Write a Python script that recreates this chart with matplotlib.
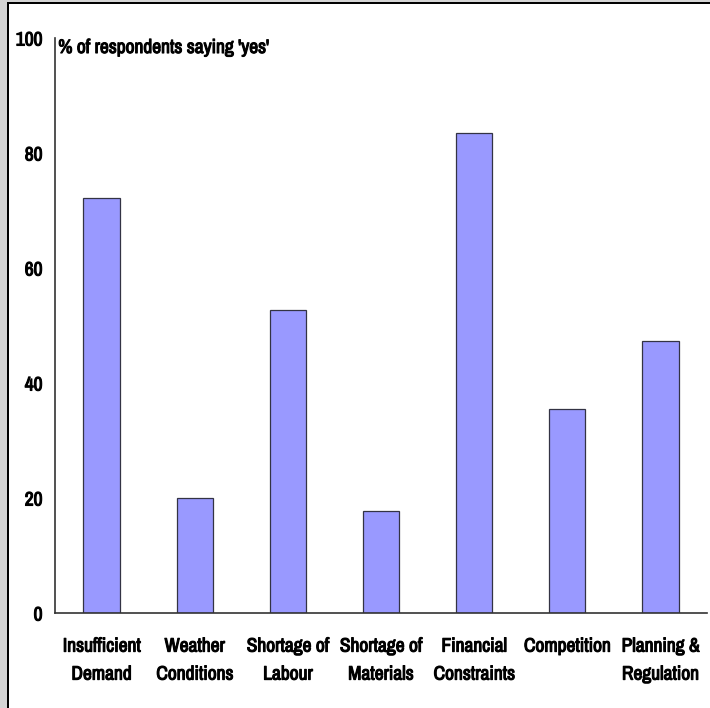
import matplotlib.pyplot as plt
import matplotlib.patheffects as pe
from matplotlib.patches import Rectangle

categories = ["Insufficient\nDemand", "Weather\nConditions", "Shortage of\nLabour",
              "Shortage of\nMaterials", "Financial\nConstraints", "Competition",
              "Planning &\nRegulation"]
yes_pct = [72.2, 20.0, 52.7, 17.7, 83.5, 35.5, 47.3]
yticks = [0, 20, 40, 60, 80, 100]

plt.rcParams['font.family'] = ['Archivo Narrow', 'Roboto Condensed', 'DejaVu Sans']
# thicken the narrow font a little
heavy = [pe.withStroke(linewidth=0.8, foreground='black')]

fig = plt.figure(figsize=(7.1, 7.08), dpi=100)
W, H = 710, 708

# outer frame: grey margin with black line on left and top
fig.patches.append(Rectangle((0, 0), 7 / W, 1, transform=fig.transFigure,
                             facecolor='#d4d4d4', edgecolor='none'))
fig.patches.append(Rectangle((0, 1 - 2 / H), 1, 2 / H, transform=fig.transFigure,
                             facecolor='#d4d4d4', edgecolor='none'))
fig.patches.append(Rectangle((7 / W, 0), 2 / W, 1 - 2 / H, transform=fig.transFigure,
                             facecolor='black', edgecolor='none'))
fig.patches.append(Rectangle((7 / W, 1 - 4 / H), 1, 2 / H, transform=fig.transFigure,
                             facecolor='black', edgecolor='none'))

ax = fig.add_axes([55 / W, 95 / H, 652 / W, 575 / H])
x = range(len(categories))
ax.bar(x, yes_pct, width=0.39, color='#9999ff', edgecolor='#333344', linewidth=0.9)

ax.set_xlim(-0.5, len(categories) - 0.5)
ax.set_ylim(0, 100)
ax.set_yticks(yticks)
ax.set_yticklabels([str(t) for t in yticks], fontsize=14)
ax.set_xticks(list(x))
ax.set_xticklabels(categories, fontsize=14, linespacing=1.6)
ax.tick_params(axis='both', length=0)
ax.tick_params(axis='y', pad=9)
ax.tick_params(axis='x', pad=17)
for lbl in ax.get_xticklabels() + ax.get_yticklabels():
    lbl.set_path_effects(heavy)

for s in ['top', 'right']:
    ax.spines[s].set_visible(False)
for s in ['left', 'bottom']:
    ax.spines[s].set_color('#333333')
    ax.spines[s].set_linewidth(1.2)

ax.text(0.005, 1.0, "% of respondents saying 'yes'", transform=ax.transAxes,
        fontsize=14, va='top', ha='left', path_effects=heavy)

fig.savefig('out.png', dpi=100)
